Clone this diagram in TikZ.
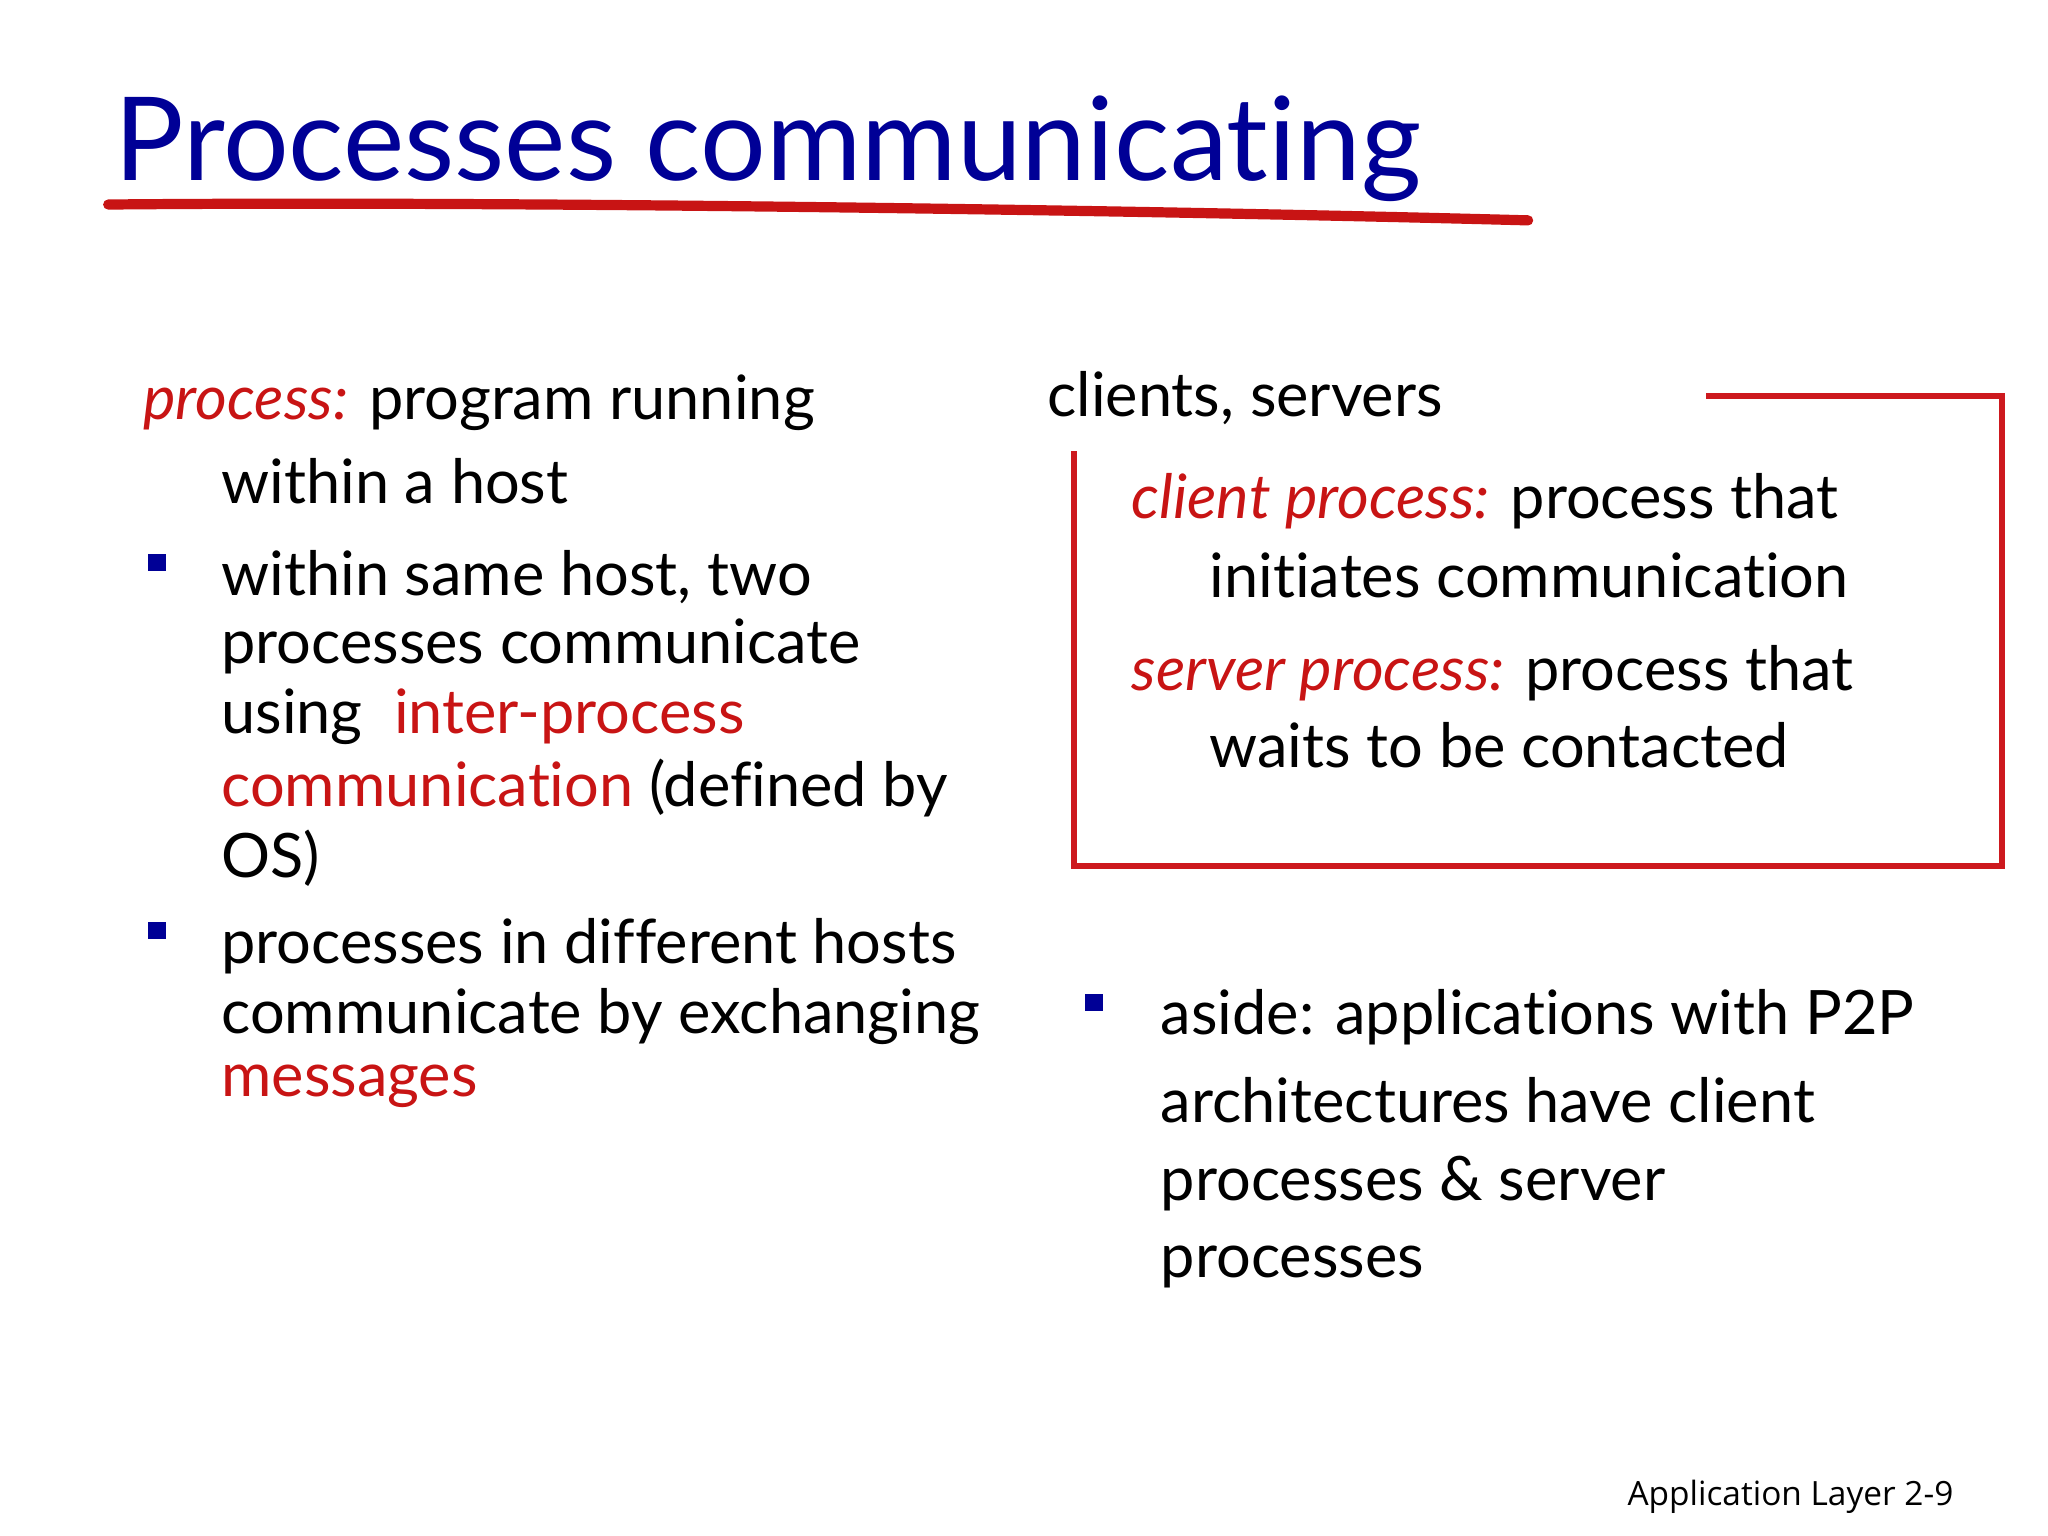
\documentclass[tikz,border=0pt]{standalone}
\usepackage{fontspec}
\setmainfont[Ligatures={NoCommon,NoRare,NoDiscretionary}]{Lato}
\newfontfamily\footfont{Open Sans}
\definecolor{ttl}{RGB}{0,0,150}
\definecolor{rd}{RGB}{200,20,20}
\definecolor{bx}{RGB}{205,25,30}
\begin{document}
\begin{tikzpicture}[x=0.01cm,y=-0.01cm,
  tx/.style={anchor=west,inner sep=0,font=\fontsize{13.2pt}{15pt}\selectfont},
  bul/.style={fill=ttl,minimum size=0.13cm,inner sep=0}]
\useasboundingbox (0,0) rectangle (1552,1164);
\node[anchor=west,inner sep=0,text=ttl,font=\fontsize{25pt}{30pt}\selectfont] (title) at (86,113) {Processes communicating};
\draw[rd,line width=2.2pt,line cap=round] (82,155) .. controls (400,152) and (900,160) .. (1158,167);
% left
\node[tx] (l1) at (108,305) {\textcolor{rd}{\itshape process:} program running};
\node[tx] (l2) at (167,365) {within a host};
\node[bul] (b1) at (119,426) {};
\node[tx] (a1) at (167,437) {within same host, two};
\node[tx] (a2) at (167,490) {processes communicate};
\node[tx] (a3) at (167,543) {using\ \ \textcolor{rd}{inter-process}};
\node[tx] (a4) at (167,597) {\textcolor{rd}{communication} (defined by};
\node[tx] (a5) at (167,650) {OS)};
\node[bul] (b2) at (119,705) {};
\node[tx] (c1) at (167,717) {processes in different hosts};
\node[tx] (c2) at (167,770) {communicate by exchanging};
\node[tx] (c3) at (167,823) {\textcolor{rd}{messages}};
% right
\node[tx] (r0) at (793,302) {clients, servers};
\coordinate (p1) at (1293,300);
\coordinate (p2) at (1517,300);
\coordinate (p3) at (1517,656);
\coordinate (p4) at (814,656);
\coordinate (p5) at (814,342);
\draw[bx,line width=1.3pt] (p1) -- (p2) -- (p3) -- (p4) -- (p5);
\node[tx] (r1) at (857,380) {\textcolor{rd}{\itshape client process:} process that};
\node[tx] (r2) at (916,436) {initiates communication};
\node[tx] (r3) at (857,510) {\textcolor{rd}{\itshape server process:} process that};
\node[tx] (r4) at (916,565) {waits to be contacted};
\node[bul] (b3) at (829,760) {};
\node[tx] (s1) at (879,771) {aside: applications with P2P};
\node[tx] (s2) at (879,834) {architectures have client};
\node[tx] (s3) at (879,897) {processes \& server};
\node[tx] (s4) at (879,960) {processes};
\node[anchor=east,inner sep=0,font=\footfont\fontsize{7.2pt}{9pt}\selectfont] (ft) at (1481,1134) {Application Layer 2-9};
\end{tikzpicture}
\end{document}
